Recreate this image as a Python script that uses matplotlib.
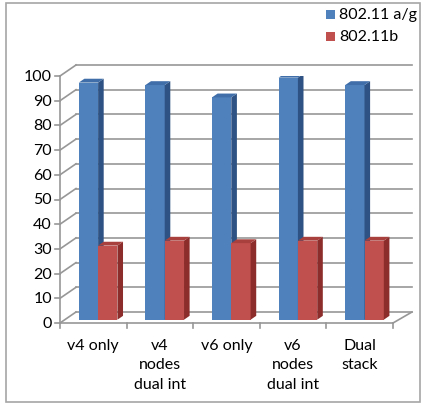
import matplotlib
matplotlib.use("Agg")
import matplotlib.pyplot as plt
from matplotlib.patches import Polygon, Rectangle
import numpy as np

categories = ["v4 only", "v4\nnodes\ndual int", "v6 only", "v6\nnodes\ndual int", "Dual\nstack"]
series_names = ["802.11 a/g", "802.11b"]
ag_values = [96, 95, 90, 98, 95]
b_values = [30, 32, 31, 32, 32]
yticks = [0, 10, 20, 30, 40, 50, 60, 70, 80, 90, 100]

front_colors = ["#4F81BD", "#C0504D"]
side_colors = ["#2E5283", "#8C2D2B"]
top_colors = ["#3F6EA8", "#A8403D"]

FONT = ["Lato", "DejaVu Sans"]
FS = 11.5

W, H = 424, 406
fig = plt.figure(figsize=(W / 100, H / 100), dpi=100)
fig.patch.set_facecolor("white")

# figure border
fig.add_artist(Rectangle((5.5 / W, 3.5 / H), 414 / W, 399 / H, transform=fig.transFigure,
                         fill=False, edgecolor="#A6A6A6", linewidth=1.2))

x0, x1 = 60, 393
y0, y1 = 324, 77
ax = fig.add_axes([x0 / W, (H - y0) / H, (x1 - x0) / W, (y0 - y1) / H])
ax.set_xlim(0, 5)
ax.set_ylim(0, 100)
ax.axis("off")

px_x = 5 / (x1 - x0)
px_y = 100 / (y0 - y1)
DX = 16 * px_x
DY = 11 * px_y

grid_c = "#979797"
lw = 1.2
# gridlines on back wall + left wall diagonals + ticks
for v in yticks:
    ax.plot([DX, 5 + DX + 3 * px_x], [v + DY, v + DY], color=grid_c, lw=lw, clip_on=False, zorder=1)
    ax.plot([0, DX], [v, v + DY], color=grid_c, lw=lw, clip_on=False, zorder=1)
    ax.plot([-5 * px_x, 0], [v, v], color=grid_c, lw=lw, clip_on=False, zorder=1)
    ax.text(-8 * px_x, v, str(v), ha="right", va="center", fontsize=FS,
            family=FONT, color="#000000")
# front axis line
ax.plot([0, 0], [0, 100], color=grid_c, lw=lw, clip_on=False, zorder=1)
# floor
ax.plot([0, 5], [0, 0], color=grid_c, lw=lw, clip_on=False, zorder=1)
ax.plot([5, 5 + DX + 3 * px_x], [0, DY], color=grid_c, lw=lw, clip_on=False, zorder=1)
for i in range(6):
    ax.plot([i, i], [0, -5 * px_y], color=grid_c, lw=lw, clip_on=False, zorder=1)

# bars
f0, f1 = 0.3, 0.65
bw = 0.29
xs = np.arange(len(categories)) + 0.5
ox, oy = f0 * DX, f0 * DY
ddx, ddy = (f1 - f0) * DX, (f1 - f0) * DY
for k, vals in enumerate([ag_values, b_values]):
    left = xs - bw + k * bw + ox
    ax.bar(left, vals, width=bw, bottom=oy, align="edge", color=front_colors[k],
           edgecolor="none", zorder=3 + k)
    for l, v in zip(left, vals):
        top = v + oy
        r = l + bw
        side = Polygon([(r, oy), (r + ddx, oy + ddy), (r + ddx, top + ddy), (r, top)],
                       closed=True, facecolor=side_colors[k], edgecolor="none", zorder=3 + k)
        topf = Polygon([(l, top), (r, top), (r + ddx, top + ddy), (l + ddx, top + ddy)],
                       closed=True, facecolor=top_colors[k], edgecolor="none", zorder=3 + k)
        ax.add_patch(side)
        ax.add_patch(topf)

# category labels
for x, c in zip(xs, categories):
    ax.text(x, -15 * px_y, c, ha="center", va="top", fontsize=FS, linespacing=1.5,
            family=FONT)

# legend
for k, name in enumerate(series_names):
    yc = 15 + k * 22
    fig.add_artist(Rectangle((326 / W, (H - yc - 4.5) / H), 9 / W, 9 / H, transform=fig.transFigure,
                             facecolor=front_colors[k], edgecolor="none"))
    fig.text(339 / W, (H - yc) / H, name, ha="left", va="center", fontsize=FS,
             family=FONT)

fig.savefig("out.png", dpi=100)
